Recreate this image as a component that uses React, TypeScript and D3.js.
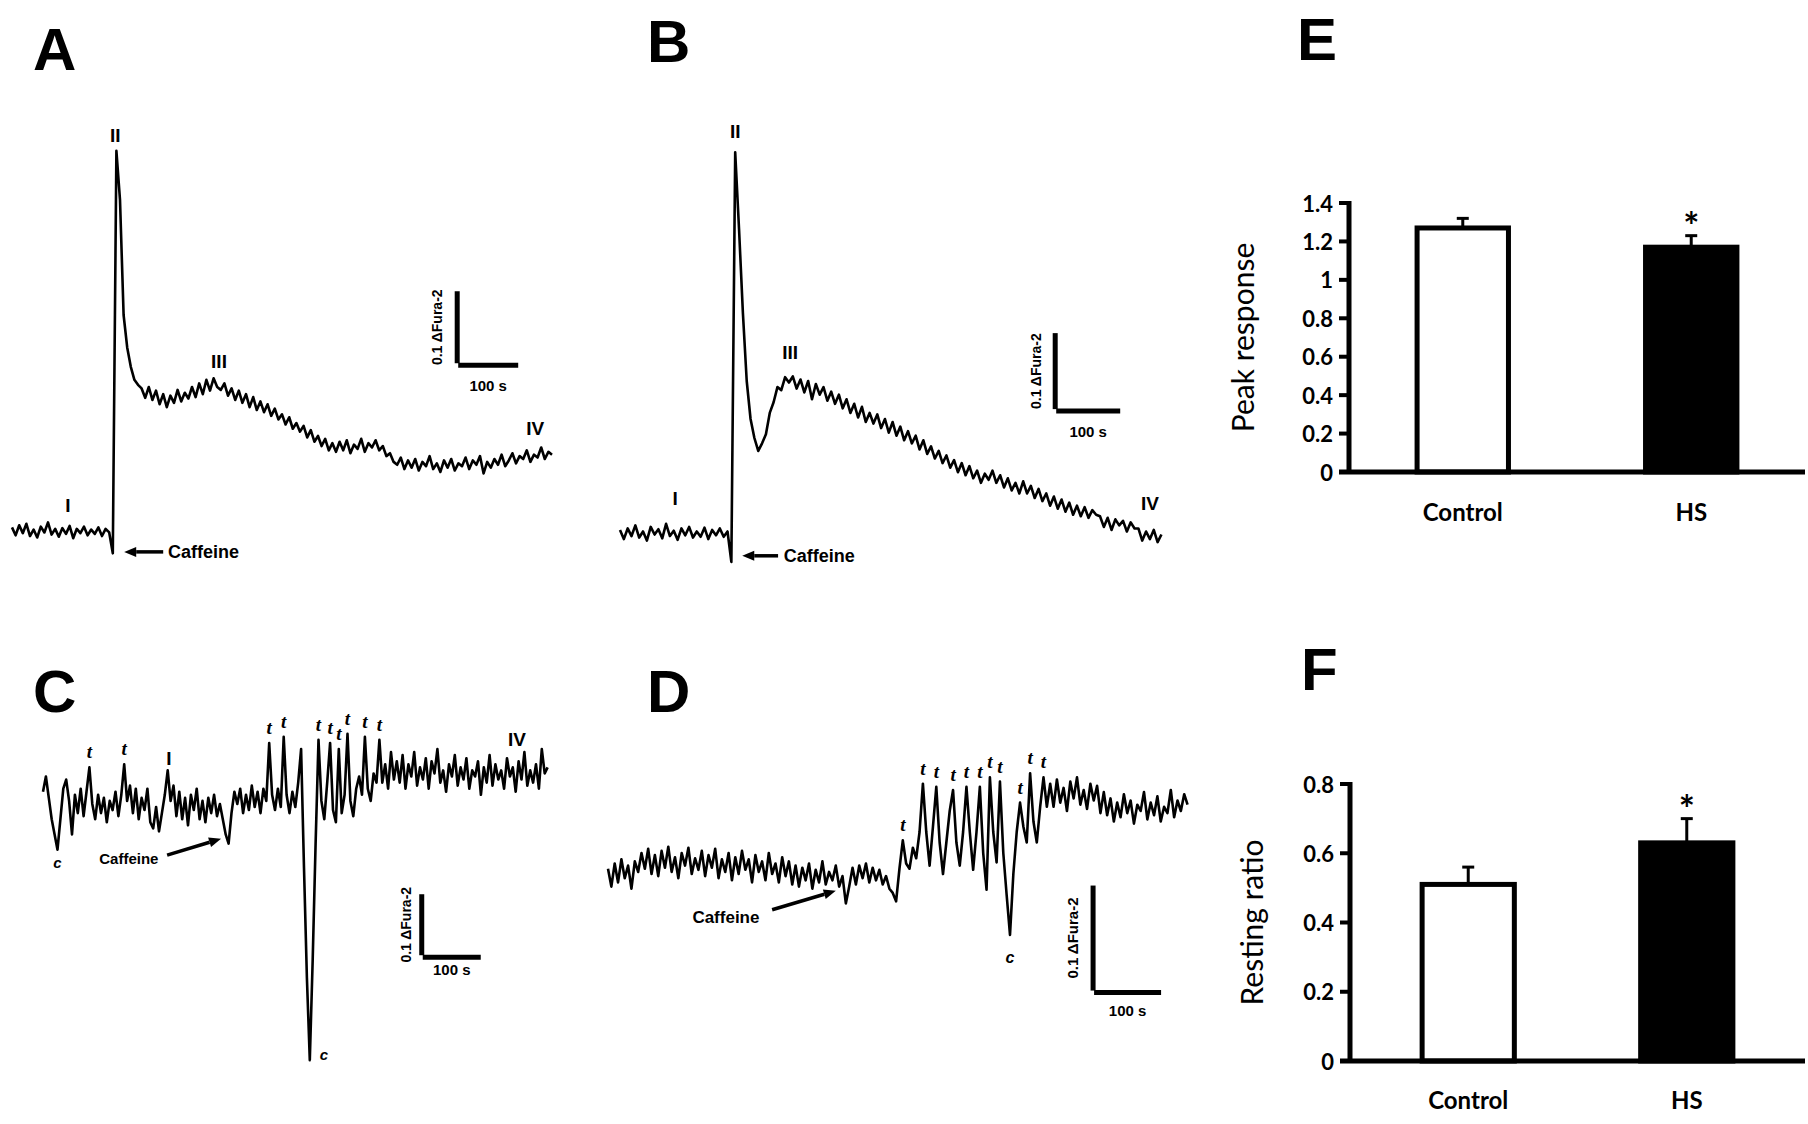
import React from 'react';
import * as d3 from 'd3';

// ---------- Trace data (ΔFura-2 × 1000, relative to resting baseline) ----------
const dtA = 6; // s per sample
const traceA = [
  5, -6, 8, -3, 10, -7, 2, -9, 6, -2, 12, -5, 3, -8, 4, -4, 7, -10, 3, -3, 6, -6, 2, -4, 5, -7, 3, -2,
  -31, 528, 460, 300, 255, 228, 210, 203,
  198, 185, 200, 182, 195, 176, 190, 172, 188, 178, 196, 180, 192, 184, 200, 186, 205, 190, 210, 195, 212, 200,
  196, 205, 188, 198, 182, 195, 178, 190, 172, 186, 168, 180, 165, 176,
  160, 170, 155, 162, 148, 158, 142, 150,
  138, 146, 130, 140, 124, 132, 118, 128, 112, 122,
  110, 124, 112, 126, 108, 120, 114, 128, 110, 122, 116, 126, 112,
  118, 104, 108, 96,
  92, 102, 86, 98, 88, 100, 84, 96, 90, 104, 86, 94, 82, 98, 88, 100, 84, 94,
  90, 102, 86, 98, 92, 104, 80, 96, 88, 100, 92, 106, 90,
  98, 108, 94, 104, 100, 112, 96, 106, 102, 116, 100, 110, 106,
];

const dtB = 6;
const traceB = [
  4, -8, 6, -4, 10, -6, 2, -10, 8, -2, 5, -7, 12, -4, 3, -9, 6, -3, 8, -6, 2, -5, 7, -8, 4, -3, 6, -5, 2,
  -38, 501,
  400, 290, 200, 150, 125, 108, 118, 130, 158, 172, 192, 188, 205, 198,
  206, 190, 202, 185, 200, 176, 196, 182, 192, 174, 186,
  170, 182, 164, 176, 158, 170, 152, 166, 146, 158,
  144, 156, 138, 150, 132, 146, 128, 140, 122, 134,
  118, 128, 110, 122, 104, 114, 98, 108, 92,
  102, 86, 96, 80, 92, 76, 88, 72, 82, 66, 78,
  70, 82, 66, 76, 60, 72, 56, 66, 52,
  68, 52, 62, 46, 58, 42, 52, 36, 48, 32,
  44, 28, 40, 24, 36, 22, 34, 20, 30, 24,
  22, 8, 20, 4, 18, 10, 16, 2, 14, 6,
  6, -10, 2, -8, 4, -12, -2,
];

const dtC = 5;
const traceC = [
  25, 50, 15, -20, -45, -70, -20, 30, 45,
  10, -45, 20, -10, 30, -15, 25, 65, 5, -20, 20, -10, 15, -25, 10, -5, 25, -15, 20, 70,
  10, 35, -10, 30, -20, 15, -5, 30, -25, -35, 0, -40, -10, 20, 60, 10, 35, -15, 25, -20,
  15, -30, 20, -5, 30, -20, 10, -25, 15, -10, 20, -15, 5, -20, -45, -60, -10, 25,
  5, 30, -10, 20, -5, 35, 0, 25, -10, 30, 10,
  105, 20, -5, 30, 0, 115, 20, -10, 25, 0, 40, 95, -100, -280, -415, -250, -60, 110,
  10, -20, 40, 105, -5, -25, 95, -10, 20, 120, 10, -15, 30, 50, 20, 115, 30, 10, 55, 40, 110, 40, 70, 30, 90, 45,
  75, 40, 85, 30, 70, 50, 90, 35, 65, 45, 80, 30, 75, 55, 95, 40, 60, 25, 70, 50,
  85, 35, 65, 45, 80, 30, 60, 50, 75, 20, 65, 40, 85, 35, 70, 45, 60, 30, 80, 50,
  65, 25, 75, 45, 90, 35, 60, 40, 70, 30, 95, 55, 65,
];

const dtD = 5;
const traceD = [
  5, -12, 10, -8, 14, -4, 8, -14, 12, 2,
  20, 5, 24, 0, 18, -2, 22, 6, 26, 2,
  16, -4, 20, 8, 25, 0, 15, 4, 22, -2,
  18, 6, 24, -4, 14, 2, 20, -6, 16, 0,
  22, 4, 14, -8, 18, 2, 12, -6, 20, 0,
  10, -8, 16, -2, 12, -10, 8, -12, 6, -6,
  10, -14, 4, -8, 12, -10, 2, -6, 8, -12,
  -2, -28, -12, 6, -10, 8, -4, 10, -8, 6,
  -6, 4, -10, -2, -14, -18, -26,
  5, 32, 10, 5, 25, 15, 40, 86, 40, 8, 45, 83, 30, 0, 30, 60, 80, 30, 8, 40, 83, 40, 4, 40, 83,
  20, -15, 92, 40, 11, 88, 20, -20, -58, 0, 40, 68, 45, 30, 96, 50, 30, 64, 92, 64,
  86, 64, 90, 68, 82, 60, 88, 72, 92, 66, 80, 62, 86, 70, 84, 58, 78,
  56, 72, 50, 68, 54, 76, 58, 70, 48, 66, 60, 78, 52, 68, 56, 74, 50, 64, 58, 80, 54, 70, 60, 76, 66,
];

// ---------- Trace annotations (time s, ΔFura-2) ----------
const romanA = [
  { s: 'I', t: 93, v: 0.036 }, { s: 'II', t: 172, v: 0.55 },
  { s: 'III', t: 345, v: 0.236 }, { s: 'IV', t: 872, v: 0.143 },
];
const romanB = [
  { s: 'I', t: 86, v: 0.046 }, { s: 'II', t: 180, v: 0.528 },
  { s: 'III', t: 266, v: 0.237 }, { s: 'IV', t: 828, v: 0.039 },
];
const romanC = [{ s: 'I', t: 217, v: 0.079 }, { s: 'IV', t: 817, v: 0.11 }];
const tPeaksC = [16, 28, 78, 83, 95, 99, 102, 105, 111, 116];
const tPeaksD = [88, 94, 98, 103, 107, 111, 114, 117, 123, 126, 130];

// ---------- Bar data ----------
const categories = ['Control', 'HS'];
const peakMeans = [1.27, 1.17];
const peakErrs = [0.05, 0.06];
const peakTicks = [0, 0.2, 0.4, 0.6, 0.8, 1, 1.2, 1.4];
const restMeans = [0.51, 0.63];
const restErrs = [0.05, 0.07];
const restTicks = [0, 0.2, 0.4, 0.6, 0.8];

const SANS = "'Liberation Sans', Arial, sans-serif";
const CAL = "Lato, 'Open Sans', sans-serif";

type Lin = d3.ScaleLinear<number, number>;

function Trace({ data, dt, xs, ys }: { data: number[]; dt: number; xs: Lin; ys: Lin }) {
  const line = d3.line<number>().x((_, i) => xs(i * dt)).y((d) => ys(d / 1000));
  return <path d={line(data) || ''} fill="none" stroke="#000" strokeWidth={2.6} strokeLinejoin="round" />;
}

function Arrow({ x1, y1, x2, y2, w = 3.5 }: { x1: number; y1: number; x2: number; y2: number; w?: number }) {
  const a = Math.atan2(y2 - y1, x2 - x1);
  const L = 12, W = 5;
  const bx = x2 - L * Math.cos(a), by = y2 - L * Math.sin(a);
  const px = -Math.sin(a) * W, py = Math.cos(a) * W;
  return (
    <g>
      <line x1={x1} y1={y1} x2={bx} y2={by} stroke="#000" strokeWidth={w} />
      <polygon points={`${x2},${y2} ${bx + px},${by + py} ${bx - px},${by - py}`} fill="#000" />
    </g>
  );
}

function ScaleBar({ xs, ys, t, v, labelDx, labelDy, fs = 14 }: { xs: Lin; ys: Lin; t: number; v: number; labelDx: number; labelDy: number; fs?: number }) {
  const cx = xs(t), cy = ys(v);
  const vlen = Math.abs(ys(0) - ys(0.1));
  const hlen = xs(100) - xs(0);
  return (
    <g fontFamily={SANS} fontWeight="bold">
      <line x1={cx} y1={cy - vlen} x2={cx} y2={cy} stroke="#000" strokeWidth={5} />
      <line x1={cx + 1} y1={cy + 2} x2={cx + 1 + hlen} y2={cy + 2} stroke="#000" strokeWidth={5} />
      <text transform={`translate(${cx - labelDx},${cy - vlen / 2}) rotate(-90)`} textAnchor="middle" dominantBaseline="central" fontSize={fs}>0.1 ΔFura-2</text>
      <text x={cx + 1 + hlen / 2} y={cy + labelDy} textAnchor="middle" fontSize={15}>100 s</text>
    </g>
  );
}

function Roman({ items, xs, ys }: { items: { s: string; t: number; v: number }[]; xs: Lin; ys: Lin }) {
  return (
    <g fontFamily={SANS} fontWeight="bold" fontSize={19}>
      {items.map((d, i) => (
        <text key={i} x={xs(d.t)} y={ys(d.v)} textAnchor="middle" dominantBaseline="central">{d.s}</text>
      ))}
    </g>
  );
}

function TLabels({ idx, data, dt, xs, ys }: { idx: number[]; data: number[]; dt: number; xs: Lin; ys: Lin }) {
  return (
    <g fontFamily="'Liberation Serif', 'DejaVu Serif', serif" fontStyle="italic" fontWeight="bold" fontSize={19}>
      {idx.map((i) => (
        <text key={i} x={xs(i * dt)} y={ys(data[i] / 1000) - 9} textAnchor="middle">t</text>
      ))}
    </g>
  );
}

function PanelLetter({ x, y, s }: { x: number; y: number; s: string }) {
  return <text x={x} y={y} fontFamily={SANS} fontWeight="bold" fontSize={60}>{s}</text>;
}

function BarPanel({ means, errs, ticks, yMax, yBottom, yTop, x0, x1, padIn, padOut, title, titleX, catY }: any) {
  const ys = d3.scaleLinear().domain([0, yMax]).range([yBottom, yTop]);
  const xb = d3.scaleBand<string>().domain(categories).range([x0, x1]).paddingInner(padIn).paddingOuter(padOut);
  const bw = xb.bandwidth();
  return (
    <g>
      {categories.map((c, i) => {
        const x = xb(c)!;
        const xc = x + bw / 2;
        const yt = ys(means[i]);
        const ye = ys(means[i] + errs[i]);
        return (
          <g key={c}>
            <line x1={xc} y1={yt} x2={xc} y2={ye} stroke="#000" strokeWidth={3} />
            <line x1={xc - 6} y1={ye} x2={xc + 6} y2={ye} stroke="#000" strokeWidth={3} />
            <rect x={x} y={yt} width={bw} height={ys(0) - yt} fill={i === 0 ? '#fff' : '#000'} stroke="#000" strokeWidth={5} />
            {i === 1 && (
              <text x={xc} y={ye + 4} textAnchor="middle" fontFamily={CAL} fontWeight="bold" fontSize={38}>*</text>
            )}
            <text x={xc} y={catY} textAnchor="middle" fontFamily={CAL} fontWeight="bold" fontSize={24}>{c}</text>
          </g>
        );
      })}
      <line x1={x0} y1={ys(yMax) - 2} x2={x0} y2={ys(0)} stroke="#000" strokeWidth={5} />
      <line x1={x0 - 10} y1={ys(0)} x2={x1} y2={ys(0)} stroke="#000" strokeWidth={5} />
      {ticks.map((t: number) => (
        <g key={t}>
          <line x1={x0 - 10} y1={ys(t)} x2={x0} y2={ys(t)} stroke="#000" strokeWidth={4} />
          <text x={x0 - 16} y={ys(t)} textAnchor="end" dominantBaseline="central" fontFamily={CAL} fontWeight="bold" fontSize={22}>
            {String(Math.round(t * 10) / 10)}
          </text>
        </g>
      ))}
      <text transform={`translate(${titleX},${(ys(0) + ys(yMax)) / 2}) rotate(-90)`} textAnchor="middle" dominantBaseline="central" fontFamily={CAL} fontSize={30}>
        {title}
      </text>
    </g>
  );
}

export default function App() {
  // Panel A
  const xA = d3.scaleLinear().domain([0, 900]).range([12, 12 + 900 * 0.6]);
  const yA = d3.scaleLinear().domain([0, 0.1]).range([531, 459]);
  // Panel B
  const xB = d3.scaleLinear().domain([0, 846]).range([620, 620 + 846 * 0.64]);
  const yB = d3.scaleLinear().domain([0, 0.1]).range([533, 457]);
  // Panel C
  const xC = d3.scaleLinear().domain([0, 870]).range([43, 43 + 870 * 0.58]);
  const yC = d3.scaleLinear().domain([0, 0.1]).range([807, 746]);
  // Panel D
  const xD = d3.scaleLinear().domain([0, 865]).range([608, 608 + 865 * 0.67]);
  const yD = d3.scaleLinear().domain([0, 0.1]).range([874, 769]);

  const cDipC1 = 5, cDipC2 = 92, cDipD = 120;

  return (
    <svg width={1808} height={1124} style={{ position: 'absolute', left: 0, top: 0, background: '#fff' }}>
      <rect width={1808} height={1124} fill="#fff" />
      <PanelLetter x={33} y={70} s="A" />
      <PanelLetter x={647} y={62} s="B" />
      <PanelLetter x={33} y={712} s="C" />
      <PanelLetter x={647} y={712} s="D" />
      <PanelLetter x={1297} y={60} s="E" />
      <PanelLetter x={1301} y={690} s="F" />

      {/* Panel A */}
      <Trace data={traceA} dt={dtA} xs={xA} ys={yA} />
      <Roman items={romanA} xs={xA} ys={yA} />
      <Arrow x1={xA(252)} y1={yA(-0.029)} x2={xA(187)} y2={yA(-0.029)} />
      <text x={xA(260)} y={yA(-0.029) + 6} fontFamily={SANS} fontWeight="bold" fontSize={18}>Caffeine</text>
      <ScaleBar xs={xA} ys={yA} t={742} v={0.233} labelDx={20} labelDy={28} />

      {/* Panel B */}
      <Trace data={traceB} dt={dtB} xs={xB} ys={yB} />
      <Roman items={romanB} xs={xB} ys={yB} />
      <Arrow x1={xB(247)} y1={yB(-0.03)} x2={xB(191)} y2={yB(-0.03)} />
      <text x={xB(256)} y={yB(-0.03) + 6} fontFamily={SANS} fontWeight="bold" fontSize={18}>Caffeine</text>
      <ScaleBar xs={xB} ys={yB} t={680} v={0.163} labelDx={19} labelDy={28} />

      {/* Panel C */}
      <Trace data={traceC} dt={dtC} xs={xC} ys={yC} />
      <Roman items={romanC} xs={xC} ys={yC} />
      <TLabels idx={tPeaksC} data={traceC} dt={dtC} xs={xC} ys={yC} />
      <g fontFamily={SANS} fontWeight="bold" fontStyle="italic" fontSize={15}>
        <text x={xC(cDipC1 * dtC)} y={yC(traceC[cDipC1] / 1000) + 18} textAnchor="middle">c</text>
        <text x={xC(cDipC2 * dtC) + 14} y={yC(traceC[cDipC2] / 1000)} textAnchor="middle">c</text>
      </g>
      <Arrow x1={xC(214)} y1={yC(-0.079)} x2={xC(307)} y2={yC(-0.052)} />
      <text x={xC(148)} y={yC(-0.085) + 5} textAnchor="middle" fontFamily={SANS} fontWeight="bold" fontSize={15}>Caffeine</text>
      <ScaleBar xs={xC} ys={yC} t={653} v={-0.243} labelDx={16} labelDy={20} />

      {/* Panel D */}
      <Trace data={traceD} dt={dtD} xs={xD} ys={yD} />
      <TLabels idx={tPeaksD} data={traceD} dt={dtD} xs={xD} ys={yD} />
      <text x={xD(cDipD * dtD)} y={yD(traceD[cDipD] / 1000) + 28} textAnchor="middle" fontFamily={SANS} fontWeight="bold" fontStyle="italic" fontSize={16}>c</text>
      <Arrow x1={xD(245)} y1={yD(-0.034)} x2={xD(340)} y2={yD(-0.016)} />
      <text x={xD(176)} y={yD(-0.041) + 6} textAnchor="middle" fontFamily={SANS} fontWeight="bold" fontSize={17}>Caffeine</text>
      <ScaleBar xs={xD} ys={yD} t={724} v={-0.111} labelDx={21} labelDy={25} fs={15} />

      {/* Panel E */}
      <BarPanel means={peakMeans} errs={peakErrs} ticks={peakTicks} yMax={1.4} yBottom={472} yTop={203}
        x0={1349} x1={1805} padIn={0.6} padOut={0.298} title="Peak response" titleX={1242} catY={521} />
      {/* Panel F */}
      <BarPanel means={restMeans} errs={restErrs} ticks={restTicks} yMax={0.8} yBottom={1061} yTop={784}
        x0={1350} x1={1805} padIn={0.578} padOut={0.33} title="Resting ratio" titleX={1251} catY={1109} />
    </svg>
  );
}
